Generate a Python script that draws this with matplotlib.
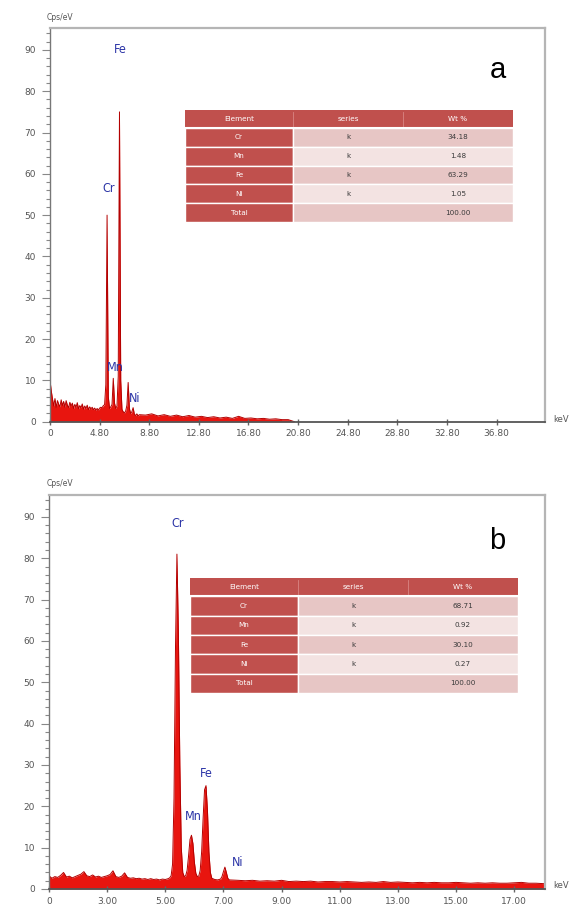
import matplotlib
matplotlib.use("Agg")
import matplotlib.pyplot as plt
from matplotlib.ticker import MultipleLocator, FixedLocator
from matplotlib.patches import Rectangle

plt.rcParams['font.family'] = ['DejaVu Sans']

# ---------------- data ----------------
top_energy = [0.8, 0.9, 1.0, 1.1, 1.2, 1.3, 1.4, 1.5, 1.6, 1.7, 1.8, 1.9,
              2.0, 2.1, 2.2, 2.3, 2.4, 2.5, 2.6, 2.7, 2.8, 2.9,
              3.0, 3.1, 3.2, 3.3, 3.4, 3.5, 3.6, 3.7, 3.8, 3.9,
              4.0, 4.1, 4.2, 4.3, 4.4, 4.5, 4.6, 4.7, 4.8, 4.9,
              5.0, 5.1, 5.2, 5.3, 5.4, 5.5, 5.6, 5.7, 5.8, 5.9,
              6.0, 6.1, 6.2, 6.3, 6.4, 6.5, 6.6, 6.7, 6.8, 6.9,
              7.0, 7.1, 7.2, 7.3, 7.4, 7.5, 7.6, 7.7, 7.8, 7.9, 8.0,
              8.5, 9.0, 9.5, 10.0, 10.5, 11.0, 11.5, 12.0, 12.5, 13.0,
              13.5, 14.0, 14.5, 15.0, 15.5, 16.0, 16.5, 17.0, 17.5, 18.0,
              18.5, 19.0, 19.5, 20.0, 20.5]
top_counts = [10.0, 7.5, 5.5, 3.8, 5.6, 3.4, 5.1, 4.2, 3.6, 5.3, 3.9, 4.9,
              3.5, 5.1, 4.0, 3.4, 4.7, 3.8, 4.5, 3.2, 4.2, 3.5,
              4.6, 3.1, 3.9, 3.4, 4.3, 3.0, 3.8, 3.2, 4.0, 2.9,
              3.6, 3.1, 3.5, 2.9, 3.3, 2.8, 3.2, 2.8, 3.3, 3.5,
              3.4, 3.9, 4.1, 9.0, 50.0, 6.0, 3.2, 3.6, 4.2, 10.5,
              4.5, 3.2, 3.8, 11.0, 75.0, 10.0, 3.0, 2.4, 2.1, 2.6,
              4.0, 9.5, 3.2, 2.0, 2.4, 3.4, 1.8, 1.5, 1.9, 1.4, 1.7,
              1.6, 1.9, 1.4, 1.7, 1.3, 1.6, 1.2, 1.5, 1.1, 1.3,
              1.0, 1.2, 0.9, 1.1, 0.8, 1.3, 0.8, 0.9, 0.7, 0.8,
              0.6, 0.7, 0.5, 0.5, 0.0]

bot_energy = [1.0, 1.1, 1.2, 1.3, 1.4, 1.5, 1.6, 1.7, 1.8, 1.9,
              2.0, 2.1, 2.2, 2.3, 2.4, 2.5, 2.6, 2.7, 2.8, 2.9,
              3.0, 3.1, 3.2, 3.3, 3.4, 3.5, 3.6, 3.7, 3.8, 3.9,
              4.0, 4.1, 4.2, 4.3, 4.4, 4.5, 4.6, 4.7, 4.8, 4.9,
              5.0, 5.1, 5.15, 5.20, 5.25, 5.30, 5.35, 5.40, 5.45, 5.50,
              5.55, 5.60, 5.65, 5.70, 5.75, 5.80, 5.85, 5.90, 5.95, 6.00,
              6.05, 6.10, 6.15, 6.20, 6.25, 6.30, 6.35, 6.40, 6.45, 6.50,
              6.55, 6.60, 6.70, 6.80, 6.90, 6.95, 7.00, 7.05, 7.10, 7.15,
              7.20, 7.5, 7.75, 8.0, 8.25, 8.5, 8.75, 9.0, 9.25, 9.5,
              9.75, 10.0, 10.25, 10.5, 10.75, 11.0, 11.25, 11.5, 11.75, 12.0,
              12.25, 12.5, 12.75, 13.0, 13.25, 13.5, 13.75, 14.0, 14.25, 14.5,
              14.75, 15.0, 15.25, 15.5, 15.75, 16.0, 16.25, 16.5, 16.75, 17.0,
              17.25, 17.5, 17.75, 18.0, 18.1]
bot_counts = [3.2, 2.6, 3.0, 2.8, 3.3, 4.0, 2.9, 3.1, 2.7, 3.0,
              3.3, 3.6, 4.2, 3.2, 3.0, 3.4, 2.9, 3.1, 2.8, 3.0,
              3.2, 3.5, 4.4, 3.0, 2.8, 3.1, 3.9, 2.8, 2.6, 2.7,
              2.5, 2.6, 2.4, 2.5, 2.3, 2.5, 2.3, 2.4, 2.2, 2.4,
              2.3, 2.5, 2.7, 3.2, 6.0, 22.0, 58.0, 81.0, 62.0, 30.0,
              10.0, 4.0, 3.0, 3.2, 4.5, 8.0, 12.0, 13.0, 11.0, 6.5,
              3.8, 3.0, 3.1, 4.5, 9.0, 17.0, 24.0, 25.0, 19.0, 9.0,
              4.0, 2.6, 2.3, 2.2, 2.4, 3.0, 4.2, 5.3, 4.0, 2.6,
              2.2, 2.1, 2.0, 2.1, 1.9, 2.0, 1.9, 2.1, 1.8, 1.9,
              1.8, 1.9, 1.7, 1.8, 1.8, 1.7, 1.8, 1.7, 1.6, 1.7,
              1.6, 1.8, 1.6, 1.7, 1.6, 1.5, 1.6, 1.5, 1.6, 1.5,
              1.5, 1.6, 1.5, 1.4, 1.5, 1.4, 1.5, 1.4, 1.4, 1.5,
              1.6, 1.4, 1.4, 1.3, 1.3]

top_xticks = [0.8, 4.8, 8.8, 12.8, 16.8, 20.8, 24.8, 28.8, 32.8, 36.8]
top_xticklabels = ["0", "4.80", "8.80", "12.80", "16.80", "20.80",
                   "24.80", "28.80", "32.80", "36.80"]
bot_xticks = [1.0, 3.0, 5.0, 7.0, 9.0, 11.0, 13.0, 15.0, 17.0]
bot_xticklabels = ["0", "3.00", "5.00", "7.00", "9.00", "11.00",
                   "13.00", "15.00", "17.00"]
yticks = [0, 10, 20, 30, 40, 50, 60, 70, 80, 90]

top_peak_names = ["Fe", "Cr", "Mn", "Ni"]
top_peak_x = [6.45, 5.55, 6.05, 7.65]
top_peak_y = [90.0, 56.5, 13.0, 5.5]
bot_peak_names = ["Cr", "Fe", "Mn", "Ni"]
bot_peak_x = [5.41, 6.42, 5.95, 7.48]
bot_peak_y = [88.5, 28.0, 17.5, 6.5]

table_header = ["Element", "series", "Wt %"]
table_elements = ["Cr", "Mn", "Fe", "Ni", "Total"]
table_series = ["k", "k", "k", "k", ""]
wt_a = ["34.18", "1.48", "63.29", "1.05", "100.00"]
wt_b = ["68.71", "0.92", "30.10", "0.27", "100.00"]

# ---------------- layout ----------------
W, H = 577, 909
fig = plt.figure(figsize=(W / 100, H / 100), dpi=100)


def px_axes(x0, y0, x1, y1):
    return fig.add_axes([x0 / W, 1 - y1 / H, (x1 - x0) / W, (y1 - y0) / H])


RED_FILL = '#e8150f'
RED_EDGE = '#b30000'
LABEL_BLUE = '#2a33a6'
TXT = '#555555'


def spectrum_panel(box, energy, counts, xlim, xticks, xticklabels,
                   names, nx, ny, letter, letter_xy, cps_xy, kev_xy):
    ax = px_axes(*box)
    ax.fill_between(energy, 0, counts, color=RED_FILL, lw=0)
    ax.plot(energy, counts, color=RED_EDGE, lw=0.7)
    ax.set_xlim(*xlim)
    ax.set_ylim(0, 95.3)
    ax.xaxis.set_major_locator(FixedLocator(xticks))
    ax.set_xticklabels(xticklabels)
    ax.yaxis.set_major_locator(FixedLocator(yticks))
    ax.yaxis.set_minor_locator(MultipleLocator(2))
    ax.tick_params(axis='x', direction='inout', length=5, width=1,
                   colors='#666666', labelsize=6.5, labelcolor=TXT, pad=3)
    ax.tick_params(axis='y', which='major', direction='out', length=6,
                   width=0.8, colors='#888888', labelsize=6.5,
                   labelcolor=TXT, pad=4)
    ax.tick_params(axis='y', which='minor', direction='out', length=3,
                   width=0.8, colors='#888888')
    for s in ('top', 'right'):
        ax.spines[s].set_color('#b5b5b5')
        ax.spines[s].set_linewidth(1.6)
    ax.spines['left'].set_color('#777777')
    ax.spines['left'].set_linewidth(1.0)
    ax.spines['bottom'].set_color('#555555')
    ax.spines['bottom'].set_linewidth(1.3)
    for name, x, y in zip(names, nx, ny):
        ax.text(x, y, name, color=LABEL_BLUE, fontsize=9,
                family=['DejaVu Sans'], fontstretch='condensed',
                ha='center', va='center')
    fig.text(letter_xy[0] / W, 1 - letter_xy[1] / H, letter, fontsize=21,
             family=['Liberation Sans', 'DejaVu Sans'], ha='center',
             va='center', color='black')
    fig.text(cps_xy[0] / W, 1 - cps_xy[1] / H, "Cps/eV", fontsize=5.5,
             color=TXT, ha='left', va='center')
    fig.text(kev_xy[0] / W, 1 - kev_xy[1] / H, "keV", fontsize=6,
             color=TXT, ha='left', va='center')
    return ax


def draw_table(box, values):
    ax = px_axes(*box)
    ax.set_xlim(0, 1)
    ax.set_ylim(1, 0)
    ax.axis('off')
    col_edges = [0.0, 0.33, 0.665, 1.0]
    header_h = 0.16
    row_h = (1 - header_h) / len(table_elements)
    red = '#c0504d'
    band = ['#e7c6c5', '#f3e3e2']
    ax.add_patch(Rectangle((0, 0), 1, header_h, facecolor=red,
                           edgecolor='none'))
    for j, h in enumerate(table_header):
        cx = (col_edges[j] + col_edges[j + 1]) / 2
        ax.text(cx, header_h / 2, h, color='white', fontsize=5.2,
                ha='center', va='center')
    for j in (1, 2):
        ax.plot([col_edges[j]] * 2, [0.02, header_h - 0.02],
                color='#d98583', lw=0.6)
    for i in range(len(table_elements)):
        y0 = header_h + i * row_h
        ax.add_patch(Rectangle((col_edges[0], y0), col_edges[1], row_h,
                               facecolor=red, edgecolor='white', lw=1.0))
        ax.add_patch(Rectangle((col_edges[1], y0), 1 - col_edges[1], row_h,
                               facecolor=band[i % 2], edgecolor='white',
                               lw=1.0))
        cy = y0 + row_h / 2
        row = [table_elements[i], table_series[i], values[i]]
        for j, t in enumerate(row):
            cx = (col_edges[j] + col_edges[j + 1]) / 2
            ax.text(cx, cy, t, color='white' if j == 0 else '#3a3a3a',
                    fontsize=5.2, ha='center', va='center')
    ax.plot([0, 1], [header_h, header_h], color='white', lw=1.5)


spectrum_panel((50, 28, 545, 421.7), top_energy, top_counts, (0.8, 40.7),
               top_xticks, top_xticklabels, top_peak_names, top_peak_x,
               top_peak_y, "a", (498, 70), (47, 18), (553, 419))
spectrum_panel((49, 495, 545, 889), bot_energy, bot_counts, (1.0, 18.06),
               bot_xticks, bot_xticklabels, bot_peak_names, bot_peak_x,
               bot_peak_y, "b", (497, 541), (47, 484), (553, 886))

draw_table((185, 110, 513, 222), wt_a)
draw_table((190, 578, 518, 693), wt_b)

fig.savefig("out.png", dpi=100, facecolor='white')
